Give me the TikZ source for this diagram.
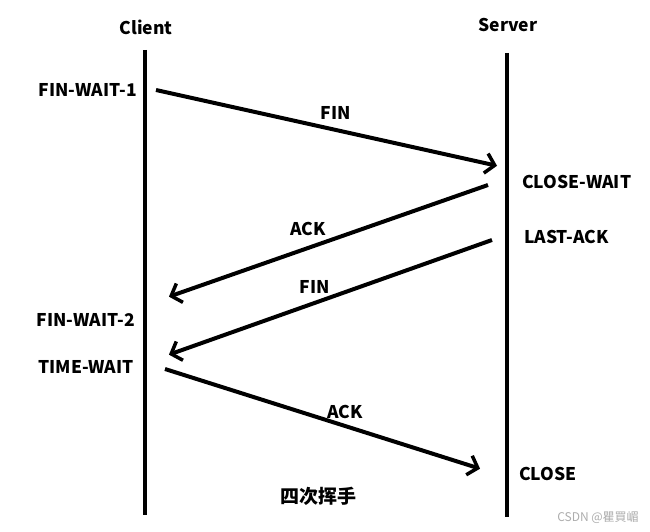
\documentclass[tikz,border=0pt]{standalone}
\usepackage{fontspec}
\setmainfont{Noto Sans CJK SC}
\usetikzlibrary{arrows.meta}
\begin{document}
\begin{tikzpicture}[x=1pt,y=-1pt,
  lbl/.style={font=\fontsize{17.5}{20}\selectfont\bfseries, inner sep=0pt},
  life/.style={line width=3.8pt},
  msg/.style={line width=4pt, -{Straight Barb[length=9pt,width=20pt,line width=3.5pt]}, shorten >=1pt}]
\useasboundingbox (0,0) rectangle (650,532);
\fill[white] (0,0) rectangle (650,532);
% headers
\node[lbl] (client) at (146,27) {Client};
\node[lbl] (server) at (508,25) {Server};
% lifelines
\coordinate (ctop) at (145,50);
\coordinate (cbot) at (145,515);
\coordinate (stop) at (507,53);
\coordinate (sbot) at (507,517);
\draw[life] (ctop) -- (cbot);
\draw[life] (stop) -- (sbot);
% states
\node[lbl, anchor=east] (fw1) at (137,90) {FIN-WAIT-1};
\node[lbl, anchor=west] (cw) at (522,182) {CLOSE-WAIT};
\node[lbl, anchor=west] (la) at (524,237) {LAST-ACK};
\node[lbl, anchor=east] (fw2) at (135,320) {FIN-WAIT-2};
\node[lbl, anchor=east] (tw) at (134,367) {TIME-WAIT};
\node[lbl, anchor=west] (cl) at (519,474) {CLOSE};
% message endpoints
\coordinate (a1s) at (156,90);
\coordinate (a1e) at (498,166);
\coordinate (a2s) at (488,185);
\coordinate (a2e) at (168,297);
\coordinate (a3s) at (492,240);
\coordinate (a3e) at (168,355);
\coordinate (a4s) at (165,369);
\coordinate (a4e) at (481,469);
\draw[msg] (a1s) -- (a1e);
\draw[msg] (a2s) -- (a2e);
\draw[msg] (a3s) -- (a3e);
\draw[msg] (a4s) -- (a4e);
% message labels
\node[lbl] (m1) at (336,113) {FIN};
\node[lbl] (m2) at (308,229) {ACK};
\node[lbl] (m3) at (315,287) {FIN};
\node[lbl] (m4) at (345,412) {ACK};
% caption
\node[lbl, font=\fontsize{19}{22}\selectfont\bfseries] (cap) at (318,496) {四次挥手};
\node[font=\fontsize{12}{14}\selectfont, text=black!32, inner sep=0pt] (wm) at (598,518) {CSDN @瞿買嵋};
\end{tikzpicture}
\end{document}
